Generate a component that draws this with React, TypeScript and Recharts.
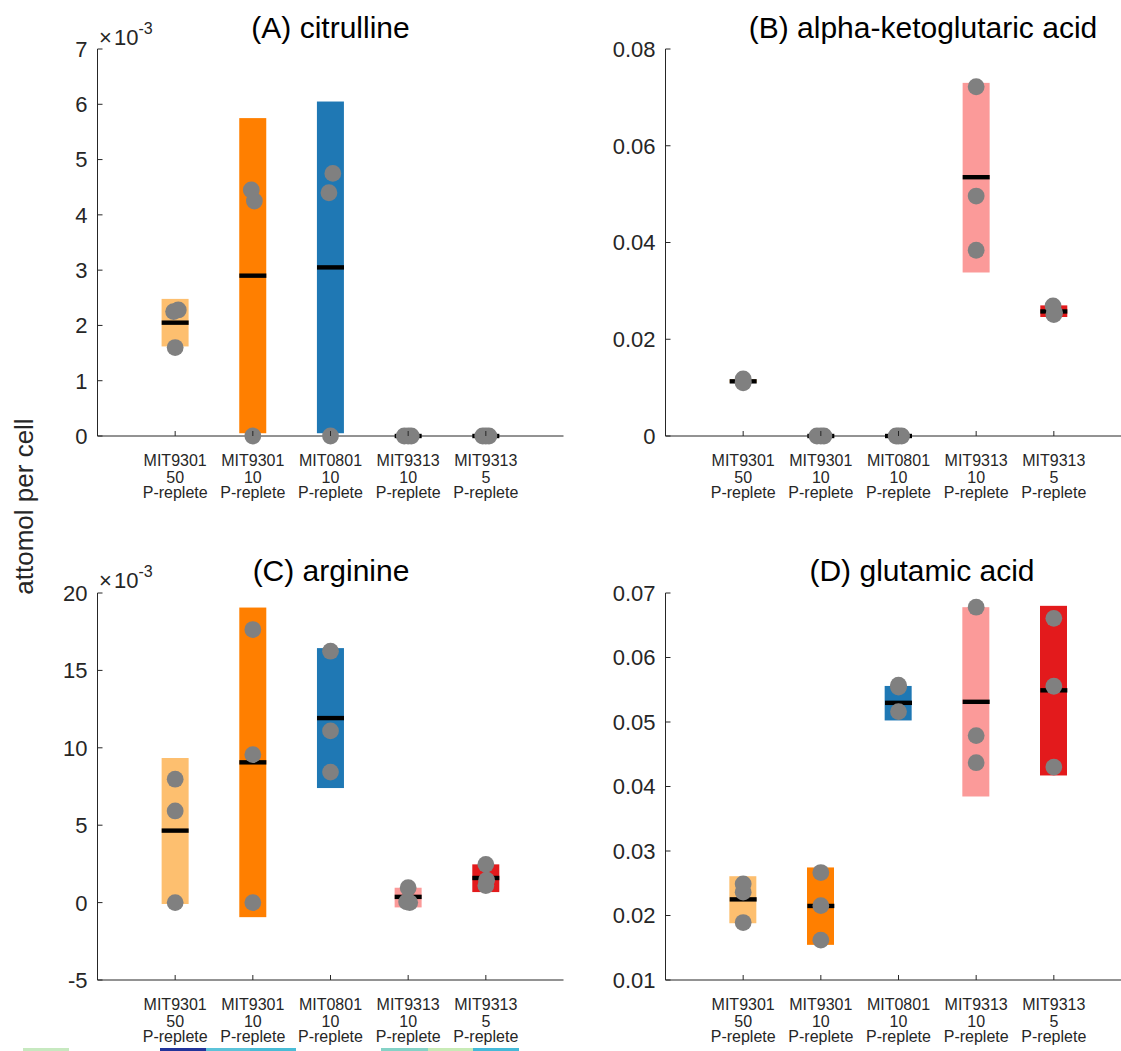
import React from 'react';
import { ComposedChart, Bar, Scatter, XAxis, YAxis, Cell } from 'recharts';

// ---------- shared categories ----------
const categoryX = [1, 2, 3, 4, 5];
const strainLabels = ['MIT9301', 'MIT9301', 'MIT0801', 'MIT9313', 'MIT9313'];
const lightLabels = ['50', '10', '10', '10', '5'];
const conditionLabels = ['P-replete', 'P-replete', 'P-replete', 'P-replete', 'P-replete'];
const barColors = ['#FDBF6F', '#FF7F00', '#1F78B4', '#FB9A99', '#E31A1C'];

// ---------- (A) citrulline ----------
const citLow = [0.00162, 0.00005, 0.00005, 0, 0];
const citHigh = [0.00248, 0.00575, 0.00605, 0, 0];
const citCentre = [0.00205, 0.0029, 0.00305, 0, 0];
const citPoints = [
  [0.00225, 0.00228, 0.0016],
  [0.00445, 0.00425, 0],
  [0.00475, 0.0044, 0],
  [0, 0, 0],
  [0, 0, 0],
];
const citJitter = [
  [-0.02, 0.04, 0],
  [-0.02, 0.02, 0],
  [0.03, -0.02, 0],
  [-0.05, 0.04, 0],
  [-0.04, 0.04, 0],
];
const citTicks = [0, 0.001, 0.002, 0.003, 0.004, 0.005, 0.006, 0.007];
const citTickLabels = ['0', '1', '2', '3', '4', '5', '6', '7'];

// ---------- (B) alpha-ketoglutaric acid ----------
const akgLow = [0.011, 0, 0, 0.0338, 0.0246];
const akgHigh = [0.0117, 0, 0, 0.073, 0.027];
const akgCentre = [0.0113, 0, 0, 0.0535, 0.02575];
const akgPoints = [
  [0.0118, 0.0112, 0.011],
  [0, 0, 0],
  [0, 0, 0],
  [0.0722, 0.0496, 0.0384],
  [0.0269, 0.0255, 0.0251],
];
const akgJitter = [
  [0, 0, 0],
  [-0.05, 0.04, 0],
  [-0.03, 0.04, 0],
  [0, 0, 0],
  [-0.01, 0.01, 0],
];
const akgTicks = [0, 0.02, 0.04, 0.06, 0.08];
const akgTickLabels = ['0', '0.02', '0.04', '0.06', '0.08'];

// ---------- (C) arginine ----------
const argLow = [-0.00009, -0.00094, 0.0074, -0.00031, 0.00068];
const argHigh = [0.00934, 0.01906, 0.01644, 0.00096, 0.00247];
const argCentre = [0.00465, 0.00906, 0.01192, 0.00037, 0.00159];
const argPoints = [
  [0.00797, 0.00592, 0],
  [0.01764, 0.00956, 0],
  [0.01624, 0.01109, 0.00843],
  [0.00096, 0.00005, 0],
  [0.00247, 0.00145, 0.0011],
];
const argJitter = [
  [0, 0, 0],
  [0, 0, 0],
  [0, 0, 0],
  [0, -0.02, 0.02],
  [0, 0.01, 0],
];
const argTicks = [-0.005, 0, 0.005, 0.01, 0.015, 0.02];
const argTickLabels = ['-5', '0', '5', '10', '15', '20'];

// ---------- (D) glutamic acid ----------
const gluLow = [0.0188, 0.01545, 0.05024, 0.03845, 0.04171];
const gluHigh = [0.02609, 0.02745, 0.05559, 0.0678, 0.06801];
const gluCentre = [0.0225, 0.02148, 0.05297, 0.05313, 0.05491];
const gluPoints = [
  [0.0249, 0.02362, 0.01891],
  [0.02666, 0.02153, 0.01618],
  [0.0557, 0.0554, 0.05161],
  [0.0678, 0.04789, 0.04369],
  [0.06607, 0.05554, 0.04301],
];
const gluJitter = [
  [0, 0, 0],
  [0, 0, 0],
  [0, 0, 0],
  [0, 0, 0],
  [0, 0, 0],
];
const gluTicks = [0.01, 0.02, 0.03, 0.04, 0.05, 0.06, 0.07];
const gluTickLabels = ['0.01', '0.02', '0.03', '0.04', '0.05', '0.06', '0.07'];

// ---------- styling ----------
const FONT = '"Liberation Sans", Arial, Helvetica, sans-serif';
const AXIS = '#262626';
const DOT = '#808080';
const CHART_W = 563.5;
const CHART_H = 520;
const Y_AXIS_W = 97.5;
const X_AXIS_H = 84;
const TOP = 49;
const BAR_W = 27;

const XTick = (props: any) => {
  const { x, y, payload } = props;
  const i = categoryX.indexOf(payload.value);
  return (
    <g>
      <line x1={x} x2={x} y1={y} y2={y - 5} stroke={AXIS} strokeWidth={1} />
      <text textAnchor="middle" fontSize={16} fill={AXIS} fontFamily={FONT}>
        <tspan x={x} y={y + 30}>{strainLabels[i]}</tspan>
        <tspan x={x} y={y + 46.5}>{lightLabels[i]}</tspan>
        <tspan x={x} y={y + 62}>{conditionLabels[i]}</tspan>
      </text>
    </g>
  );
};

const makeYTick = (labels: string[]) => (props: any) => {
  const { x, y, index } = props;
  return (
    <g>
      <line x1={x} x2={x + 5} y1={y} y2={y} stroke={AXIS} strokeWidth={1} />
      <text x={x - 10} y={y} dy="0.36em" textAnchor="end" fontSize={22} fill={AXIS} fontFamily={FONT}>
        {labels[index]}
      </text>
    </g>
  );
};

// Range bar drawn centred on the slot Recharts computed, at a fixed width
const RangeBarShape = (props: any) => {
  const { x, y, width, height, fill } = props;
  if (x == null || y == null) return null;
  const cx = x + (width || 0) / 2;
  const top = Math.min(y, y + height);
  const h = Math.abs(height);
  return <rect x={cx - BAR_W / 2} y={top} width={BAR_W} height={h} fill={fill} />;
};

const CentreMark = (props: any) => {
  const { cx, cy } = props;
  return <rect x={cx - BAR_W / 2} y={cy - 2.2} width={BAR_W} height={4.4} fill="#000" />;
};

const PointMark = (props: any) => {
  const { cx, cy } = props;
  return <circle cx={cx} cy={cy} r={8.4} fill={DOT} />;
};

type PanelProps = {
  left: number;
  top: number;
  low: number[];
  high: number[];
  centre: number[];
  points: number[][];
  jitter: number[][];
  domain: [number, number];
  ticks: number[];
  tickLabels: string[];
};

function Panel({ left, top, low, high, centre, points, jitter, domain, ticks, tickLabels }: PanelProps) {
  const rows = categoryX.map((x, i) => ({ x, range: [low[i], high[i]], centre: centre[i] }));
  const pts = points.flatMap((arr, i) => arr.map((v, j) => ({ x: categoryX[i] + jitter[i][j], v })));
  return (
    <div style={{ position: 'absolute', left, top }}>
      <ComposedChart width={CHART_W} height={CHART_H} data={rows} margin={{ top: TOP, right: 0, bottom: 0, left: 0 }}>
        <XAxis
          type="number"
          dataKey="x"
          domain={[0, 6]}
          ticks={categoryX}
          interval={0}
          height={X_AXIS_H}
          tickLine={false}
          tickSize={0}
          tickMargin={0}
          axisLine={{ stroke: AXIS, strokeWidth: 1 }}
          tick={<XTick />}
        />
        <YAxis
          type="number"
          domain={domain}
          ticks={ticks}
          interval={0}
          width={Y_AXIS_W}
          tickLine={false}
          tickSize={0}
          tickMargin={0}
          axisLine={{ stroke: AXIS, strokeWidth: 1 }}
          tick={makeYTick(tickLabels)}
        />
        <Bar dataKey="range" barSize={BAR_W} shape={RangeBarShape} isAnimationActive={false}>
          {rows.map((r, i) => (
            <Cell key={i} fill={barColors[i]} />
          ))}
        </Bar>
        <Scatter dataKey="centre" data={rows} shape={CentreMark} isAnimationActive={false} />
        <Scatter dataKey="v" data={pts} shape={PointMark} isAnimationActive={false} />
      </ComposedChart>
    </div>
  );
}

const stripColors = ['#c7e9c0', '#22349a', '#5cc3d9', '#49bcd6', '#84d2c6', '#c8ebb6', '#45b9d8'];
const stripStarts = [23, 160, 206, 250, 381, 428, 473];
const stripEnds = [69, 206, 250, 296, 428, 473, 519];

export default function App() {
  return (
    <div style={{ position: 'relative', width: 1121, height: 1051, overflow: 'hidden', background: '#fff', fontFamily: FONT }}>
      <style>{`body{margin:0;}`}</style>
      <Panel left={0} top={0} low={citLow} high={citHigh} centre={citCentre} points={citPoints} jitter={citJitter}
        domain={[0, 0.007]} ticks={citTicks} tickLabels={citTickLabels} />
      <Panel left={567.5} top={0} low={akgLow} high={akgHigh} centre={akgCentre} points={akgPoints} jitter={akgJitter}
        domain={[0, 0.08]} ticks={akgTicks} tickLabels={akgTickLabels} />
      <Panel left={0} top={544} low={argLow} high={argHigh} centre={argCentre} points={argPoints} jitter={argJitter}
        domain={[-0.005, 0.02]} ticks={argTicks} tickLabels={argTickLabels} />
      <Panel left={567.5} top={544} low={gluLow} high={gluHigh} centre={gluCentre} points={gluPoints} jitter={gluJitter}
        domain={[0.01, 0.07]} ticks={gluTicks} tickLabels={gluTickLabels} />
      <svg width={1121} height={1051} style={{ position: 'absolute', left: 0, top: 0, pointerEvents: 'none' }}>
        <g fontFamily={FONT} fill="#000">
          <text x={330.5} y={38} fontSize={30} textAnchor="middle">(A) citrulline</text>
          <text x={923} y={38} fontSize={30} textAnchor="middle">(B) alpha-ketoglutaric acid</text>
          <text x={331} y={581} fontSize={30} textAnchor="middle">(C) arginine</text>
          <text x={922} y={581} fontSize={30} textAnchor="middle">(D) glutamic acid</text>
        </g>
        <g fontFamily={FONT} fill={AXIS}>
          <text x={99} y={45} fontSize={22}>
            <tspan>×</tspan>
            <tspan x={114}>10</tspan>
            <tspan dy={-11} fontSize={16}>-3</tspan>
          </text>
          <text x={99} y={588} fontSize={22}>
            <tspan>×</tspan>
            <tspan x={114}>10</tspan>
            <tspan dy={-11} fontSize={16}>-3</tspan>
          </text>
          <text transform="translate(33,506.5) rotate(-90)" textAnchor="middle" fontSize={26}>attomol per cell</text>
        </g>
        {stripColors.map((c, i) => (
          <rect key={i} x={stripStarts[i]} y={1048} width={stripEnds[i] - stripStarts[i]} height={3} fill={c} />
        ))}
      </svg>
    </div>
  );
}
